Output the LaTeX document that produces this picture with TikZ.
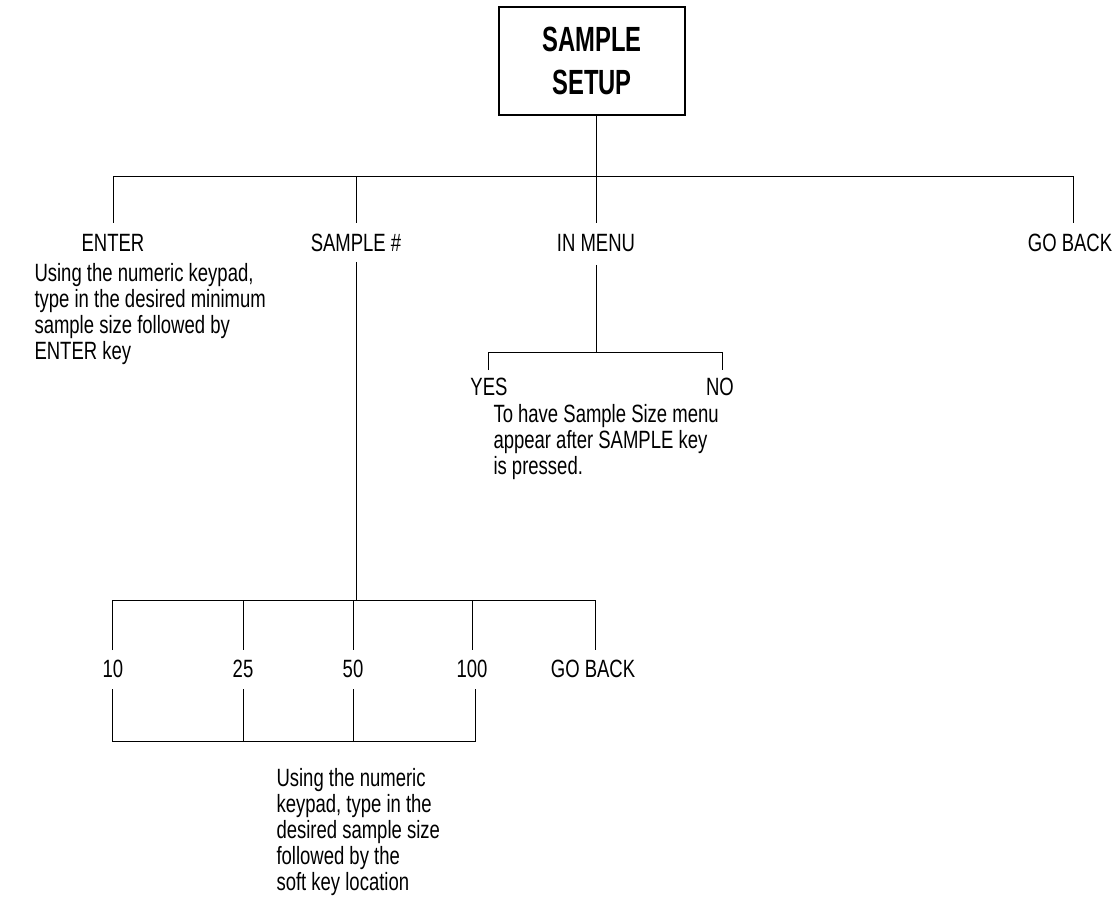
\documentclass[tikz,border=0pt]{standalone}
\usepackage{fontspec}
\setmainfont[FakeStretch=0.74]{Liberation Sans}
\newfontfamily\titlefont[FakeStretch=0.68]{Liberation Sans}
\begin{document}
\begin{tikzpicture}[x=1pt,y=-1pt,
  line width=1pt,
  lbl/.style={inner sep=0pt,font=\fontsize{25}{26}\selectfont},
  desc/.style={inner sep=0pt,anchor=north west,align=left,font=\fontsize{25}{26}\selectfont},
  titlebox/.style={draw,line width=1.2pt,minimum width=186pt,minimum height=108pt,align=center,font=\fontsize{35}{43}\titlefont\bfseries}]
\useasboundingbox (0,0) rectangle (1116,909);
\node[titlebox] (top) at (592,61) {SAMPLE\\SETUP};
% main bus
\coordinate (b0) at (596,177);
\coordinate (bL) at (113,177);
\coordinate (bR) at (1073,177);
\coordinate (bS) at (356,177);
\coordinate (dE) at (113,223);
\coordinate (dS) at (356,223);
\coordinate (dI) at (596,223);
\coordinate (dG) at (1073,223);
\draw (top.south -| b0) -- (b0);
\draw (dE) -- (bL) -- (bR) -- (dG);
\draw (bS) -- (dS);
\draw (b0) -- (dI);
\node[lbl] (enter) at (113,243) {ENTER};
\node[lbl] (samp) at (356,243) {SAMPLE \#};
\node[lbl] (inmenu) at (596,243) {IN MENU};
\node[lbl] (goback) at (1070,243) {GO BACK};
\node[desc] (enterdesc) at (34,263) {Using the numeric keypad,\\type in the desired minimum\\sample size followed by\\ENTER key};
% IN MENU branch
\coordinate (iTop) at (596,265);
\coordinate (iBus) at (596,352);
\coordinate (yB) at (488,352);
\coordinate (nB) at (722,352);
\coordinate (yD) at (488,370);
\coordinate (nD) at (722,370);
\draw (iTop) -- (iBus);
\draw (yD) -- (yB) -- (nB) -- (nD);
\node[lbl] (yes) at (489,387) {YES};
\node[lbl] (no) at (720,387) {NO};
\node[desc] (yesdesc) at (493,404) {To have Sample Size menu\\appear after SAMPLE key\\is pressed.};
% SAMPLE # branch
\coordinate (sTop) at (356,262);
\draw (sTop) -- (356,600);
\coordinate (u1) at (112,600);
\coordinate (u2) at (243,600);
\coordinate (u3) at (353,600);
\coordinate (u4) at (472,600);
\coordinate (u5) at (595,600);
\draw (u1 |- 0,650) -- (u1) -- (u5) -- (u5 |- 0,650);
\draw (u2) -- (u2 |- 0,650);
\draw (u3) -- (u3 |- 0,650);
\draw (u4) -- (u4 |- 0,650);
\node[lbl] (n10) at (113,669) {10};
\node[lbl] (n25) at (243,669) {25};
\node[lbl] (n50) at (353,669) {50};
\node[lbl] (n100) at (472,669) {100};
\node[lbl] (gb2) at (593,669) {GO BACK};
\coordinate (l1) at (112,741);
\coordinate (l2) at (243,741);
\coordinate (l3) at (353,741);
\coordinate (l4) at (475,741);
\draw (l1 |- 0,689) -- (l1) -- (l4) -- (l4 |- 0,689);
\draw (l2) -- (l2 |- 0,689);
\draw (l3) -- (l3 |- 0,689);
\node[desc] (botdesc) at (276,768) {Using the numeric\\keypad, type in the\\desired sample size\\followed by the\\soft key location};
\end{tikzpicture}
\end{document}
